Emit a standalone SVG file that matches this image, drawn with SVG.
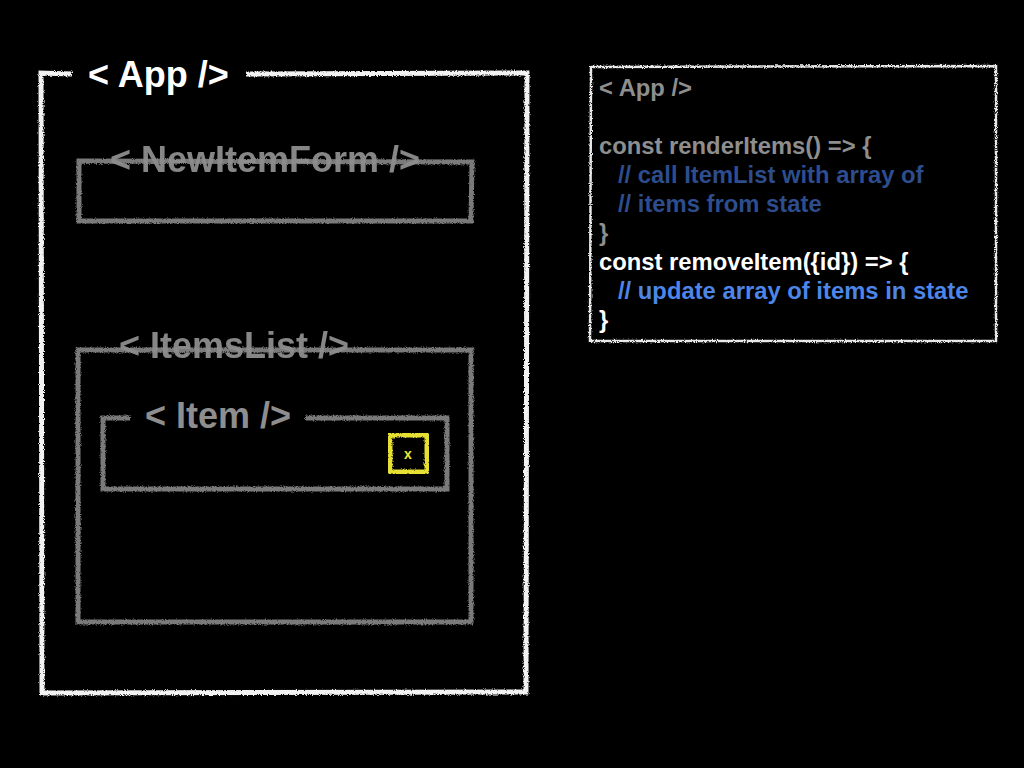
<svg xmlns="http://www.w3.org/2000/svg" width="1024" height="768" viewBox="0 0 1024 768">
<defs>
<filter id="chalk" x="-5%" y="-5%" width="110%" height="110%">
<feTurbulence type="fractalNoise" baseFrequency="0.9" numOctaves="2" seed="3" result="n"/>
<feDisplacementMap in="SourceGraphic" in2="n" scale="3.5" xChannelSelector="R" yChannelSelector="G"/>
</filter>
<style>
.white{fill:none;stroke:#f2f2f2;stroke-width:5;filter:url(#chalk)}
.gray{fill:none;stroke:#7a7a7a;stroke-width:5;filter:url(#chalk)}
.yellow{fill:none;stroke:#e6e032;stroke-width:5;filter:url(#chalk)}
.thin{fill:none;stroke:#e8e8e8;stroke-width:2.5;filter:url(#chalk)}
.lbl{font-family:"Liberation Sans",Arial,sans-serif;font-weight:bold;font-size:36px}
.code{font-family:"Liberation Sans",Arial,sans-serif;font-weight:bold;font-size:23.8px}
.g{fill:#8e8e8e}
.db{fill:#2e4d8e}
.lb{fill:#4d86e8}
.w{fill:#ffffff}
</style>
</defs>
<rect width="1024" height="768" fill="#000"/>

<g id="app">
<path class="white" d="M72,74 L41,73 L42,693 L526,692 L527,73 L246,74"/>
<text class="lbl w" x="88" y="87">&lt; App /&gt;</text>
</g>

<g id="newitemform">
<path class="gray" d="M79,161 L472,162 L471,221 L79,221 Z"/>
<text class="lbl g" x="110" y="172" opacity="0.95">&lt; NewItemForm /&gt;</text>
</g>

<g id="itemslist">
<path class="gray" d="M78,350 L471,350 L471,622 L78,622 Z"/>
<text class="lbl g" x="119" y="358" opacity="0.95">&lt; ItemsList /&gt;</text>
</g>

<g id="item">
<path class="gray" d="M130,418 L103,418 L103,489 L447,489 L447,418 L305,418"/>
<text class="lbl g" x="145" y="428">&lt; Item /&gt;</text>
</g>

<g id="remove-button">
<rect class="yellow" x="390" y="435" width="37" height="37"/>
<text x="408" y="459" text-anchor="middle" font-family="Liberation Sans,Arial,sans-serif" font-weight="bold" font-size="14" fill="#ece838">x</text>
</g>

<g id="code">
<path class="thin" d="M591,67 L996,66 L996,341 L590,341 Z"/>
<text class="code g" x="599" y="96">&lt; App /&gt;</text>
<text class="code g" x="599" y="154">const renderItems() =&gt; {</text>
<text class="code db" x="618" y="183">// call ItemList with array of</text>
<text class="code db" x="618" y="212">// items from state</text>
<text class="code g" x="599" y="241">}</text>
<text class="code w" x="599" y="270">const removeItem({id}) =&gt; {</text>
<text class="code lb" x="618" y="299">// update array of items in state</text>
<text class="code w" x="599" y="328">}</text>
</g>

<g id="connectors"></g>
</svg>
